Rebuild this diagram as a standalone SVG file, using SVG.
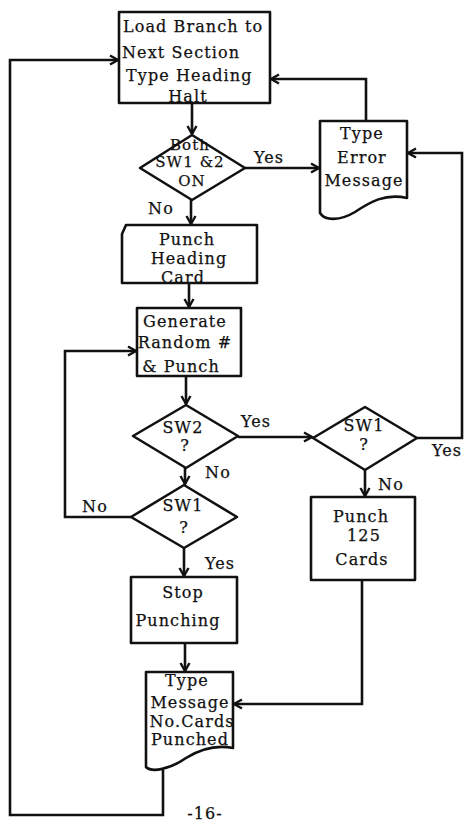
<svg xmlns="http://www.w3.org/2000/svg" width="465" height="824" viewBox="0 0 465 824">
  <style>
    .shape { fill: #fff; stroke: #111; stroke-width: 2.6; stroke-linejoin: round; }
    .line { fill: none; stroke: #111; stroke-width: 2.6; stroke-linejoin: miter; }
    text { font-family: "DejaVu Serif", "Liberation Serif", serif; font-size: 16px; fill: #111; stroke: #111; stroke-width: 0.25; letter-spacing: 1.1px; }
    .c { text-anchor: middle; }
    .s { font-size: 15px; }
  </style>
  <defs>
    <marker id="arrow" viewBox="-10 -6 12 12" markerWidth="12" markerHeight="12" refX="0" refY="0" orient="auto" markerUnits="userSpaceOnUse">
      <path d="M-8,-4.5 L0,0 L-8,4.5" fill="none" stroke="#111" stroke-width="2.4"/>
    </marker>
  </defs>
  <rect width="465" height="824" fill="#fff"/>

  <!-- connectors -->
  <g id="connectors" class="line" marker-end="url(#arrow)">
    <path d="M192,103 V134"/>
    <path d="M245,168 H319"/>
    <path d="M366,121 V79 H271"/>
    <path d="M191,200 V224"/>
    <path d="M189,283 V307"/>
    <path d="M186,376 V404"/>
    <path d="M238,437 H312"/>
    <path d="M185,468 V484"/>
    <path d="M131,517 H65 V351 H136"/>
    <path d="M184,548 V576"/>
    <path d="M185,643 V671"/>
    <path d="M365,470 V496"/>
    <path d="M362,580 V704 H234"/>
    <path d="M417,438 H462 V153 H408"/>
    <path d="M163,770 V815 H10 V60 H118"/>
  </g>

  <!-- load branch -->
  <g id="load-branch">
    <rect class="shape" x="119" y="12" width="151" height="91"/>
    <text x="123" y="32">Load Branch to</text>
    <text x="122" y="58">Next Section</text>
    <text x="126" y="81">Type Heading</text>
    <text class="c" x="188" y="102">Halt</text>
  </g>

  <!-- both switches on? -->
  <g id="both-on">
    <polygon class="shape" points="192,135 245,168 192,200 140,168"/>
    <text class="c s" x="190" y="150">Both</text>
    <text class="c s" x="190" y="167">SW1 &amp;2</text>
    <text class="c s" x="192" y="186">ON</text>
    <text class="c" x="269" y="163">Yes</text>
    <text class="c" x="161" y="214">No</text>
  </g>

  <!-- error message document -->
  <g id="error-message">
    <path class="shape" d="M320,121 H407 V198 C385,193 370,202 355,212 C340,221 325,221 320,213 Z"/>
    <text class="c" x="362" y="139">Type</text>
    <text class="c" x="362" y="163">Error</text>
    <text class="c" x="364" y="186">Message</text>
  </g>

  <!-- punch heading card -->
  <g id="heading-card">
    <polygon class="shape" points="126,225 257,225 257,283 122,283 122,234"/>
    <text class="c" x="187" y="245">Punch</text>
    <text class="c" x="189" y="264">Heading</text>
    <text class="c" x="183" y="283">Card</text>
  </g>

  <!-- generate random number -->
  <g id="generate">
    <rect class="shape" x="137" y="308" width="104" height="68"/>
    <text class="c" x="185" y="327">Generate</text>
    <text class="c" x="185" y="348">Random #</text>
    <text class="c" x="181" y="372">&amp; Punch</text>
  </g>

  <!-- SW2? -->
  <g id="sw2">
    <polygon class="shape" points="186,405 238,436 186,468 133,436"/>
    <text class="c" x="183" y="433">SW2</text>
    <text class="c" x="185" y="451">?</text>
    <text class="c" x="256" y="427">Yes</text>
    <text class="c" x="218" y="478">No</text>
  </g>

  <!-- SW1? (left) -->
  <g id="sw1-left">
    <polygon class="shape" points="184,485 237,517 184,548 131,517"/>
    <text class="c" x="183" y="511">SW1</text>
    <text class="c" x="184" y="533">?</text>
    <text class="c" x="220" y="569">Yes</text>
    <text class="c" x="95" y="512">No</text>
  </g>

  <!-- SW1? (right) -->
  <g id="sw1-right">
    <polygon class="shape" points="365,407 417,438 365,470 313,438"/>
    <text class="c" x="364" y="431">SW1</text>
    <text class="c" x="364" y="450">?</text>
    <text class="c" x="447" y="456">Yes</text>
    <text class="c" x="391" y="490">No</text>
  </g>

  <!-- punch 125 cards -->
  <g id="punch-125">
    <rect class="shape" x="311" y="497" width="104" height="83"/>
    <text class="c" x="361" y="522">Punch</text>
    <text class="c" x="364" y="541">125</text>
    <text class="c" x="362" y="565">Cards</text>
  </g>

  <!-- stop punching -->
  <g id="stop">
    <rect class="shape" x="131" y="577" width="106" height="66"/>
    <text class="c" x="183" y="598">Stop</text>
    <text class="c" x="178" y="626">Punching</text>
  </g>

  <!-- cards punched message document -->
  <g id="cards-message">
    <path class="shape" d="M146,672 H233 V748 C218,745 202,748 186,758 C170,769 152,773 146,767 Z"/>
    <text class="c" x="187" y="686">Type</text>
    <text class="c" x="190" y="708">Message</text>
    <text class="c" x="192" y="727">No.Cards</text>
    <text class="c" x="190" y="745">Punched</text>
  </g>

  <text class="c" x="205" y="819">-16-</text>
</svg>
